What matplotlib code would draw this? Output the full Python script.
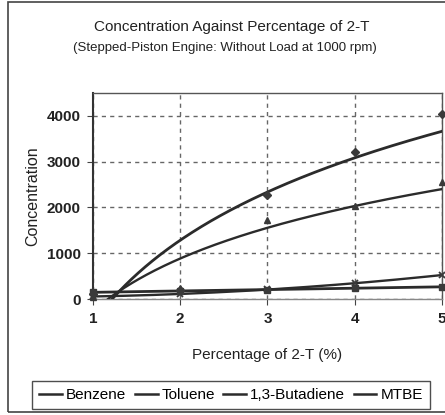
import numpy as np
import matplotlib.pyplot as plt
from matplotlib.lines import Line2D
from matplotlib.patches import Rectangle

x = [1, 2, 3, 4, 5]
benzene = [100, 200, 2280, 3220, 4050]
toluene = [50, 240, 1730, 2030, 2560]
butadiene = [150, 170, 200, 250, 260]
mtbe = [60, 100, 210, 350, 520]
series_names = ["Benzene", "Toluene", "1,3-Butadiene", "MTBE"]

plt.rcParams['font.family'] = ['Liberation Sans', 'DejaVu Sans']

fig = plt.figure(figsize=(4.45, 4.15), dpi=100)
fig.patch.set_facecolor('white')
ax = fig.add_axes([0.209, 0.2795, 0.784, 0.4964])

xs = np.linspace(1, 5, 300)
lx = np.log(x)

def log_trend(y):
    b, a = np.polyfit(lx, y, 1)
    return a + b * np.log(xs)

def poly_trend(y, deg):
    c = np.polyfit(x, y, deg)
    return np.polyval(c, xs)

lc = '#2b2b2b'
mc = '#3a3a3a'
ax.plot(xs, log_trend(benzene), color=lc, lw=2.0, zorder=3)
ax.plot(xs, log_trend(toluene), color=lc, lw=1.7, zorder=3)
ax.plot(xs, poly_trend(butadiene, 1), color=lc, lw=2.0, zorder=3)
ax.plot(xs, poly_trend(mtbe, 2), color=lc, lw=1.7, zorder=3)

ax.plot(x, benzene, ls='none', marker='D', ms=4, color=mc, zorder=4, clip_on=False)
ax.plot(x, toluene, ls='none', marker='^', ms=4.5, color=mc, zorder=4, clip_on=False)
ax.plot(x, butadiene, ls='none', marker='s', ms=4, color=mc, zorder=4, clip_on=False)
ax.plot(x, mtbe, ls='none', marker='x', ms=5, mew=1.3, color=mc, zorder=4, clip_on=False)

ax.set_xlim(1, 5)
ax.set_ylim(0, 4500)
ax.set_xticks([1, 2, 3, 4, 5])
ax.set_yticks([0, 1000, 2000, 3000, 4000])
ax.grid(True, color='#666666', ls=(0, (3, 3)), lw=1.0)
ax.tick_params(direction='out', length=4, color='#444444', labelsize=11, pad=5)
for lab in ax.get_xticklabels() + ax.get_yticklabels():
    lab.set_fontweight('bold')
    lab.set_color('#222222')
for s in ax.spines.values():
    s.set_color('#555555')
    s.set_linewidth(1.0)
ax.spines['left'].set_color('#333333')
ax.spines['left'].set_linewidth(1.5)
ax.spines['bottom'].set_color('#888888')

fig.text(0.074, 0.528, 'Concentration', rotation=90, ha='center', va='center', fontsize=11.5, color='#222222')
fig.text(0.6, 1 - 355 / 415, 'Percentage of 2-T (%)', ha='center', va='center', fontsize=11, color='#222222')
fig.text(0.521, 0.935, 'Concentration Against Percentage of 2-T', ha='center', va='center', fontsize=11, color='#222222')
fig.text(0.506, 0.884, '(Stepped-Piston Engine: Without Load at 1000 rpm)', ha='center', va='center', fontsize=9.5, color='#222222')

handles = [Line2D([], [], color=lc, lw=1.8) for _ in series_names]
leg = fig.legend(handles, series_names, loc='center', bbox_to_anchor=(231 / 445, 1 - 395 / 415),
                 ncol=4, fontsize=11, frameon=True, fancybox=False, handlelength=1.5,
                 handletextpad=0.25, columnspacing=0.55, borderpad=0.45, borderaxespad=0)
leg.get_frame().set_edgecolor('#222222')
leg.get_frame().set_linewidth(1.0)

fig.patches.append(Rectangle((8 / 445, 1 - 412 / 415), 1.0, 410 / 415, transform=fig.transFigure,
                             fill=False, edgecolor='#444444', lw=1.2))

fig.savefig('out.png', dpi=100)
